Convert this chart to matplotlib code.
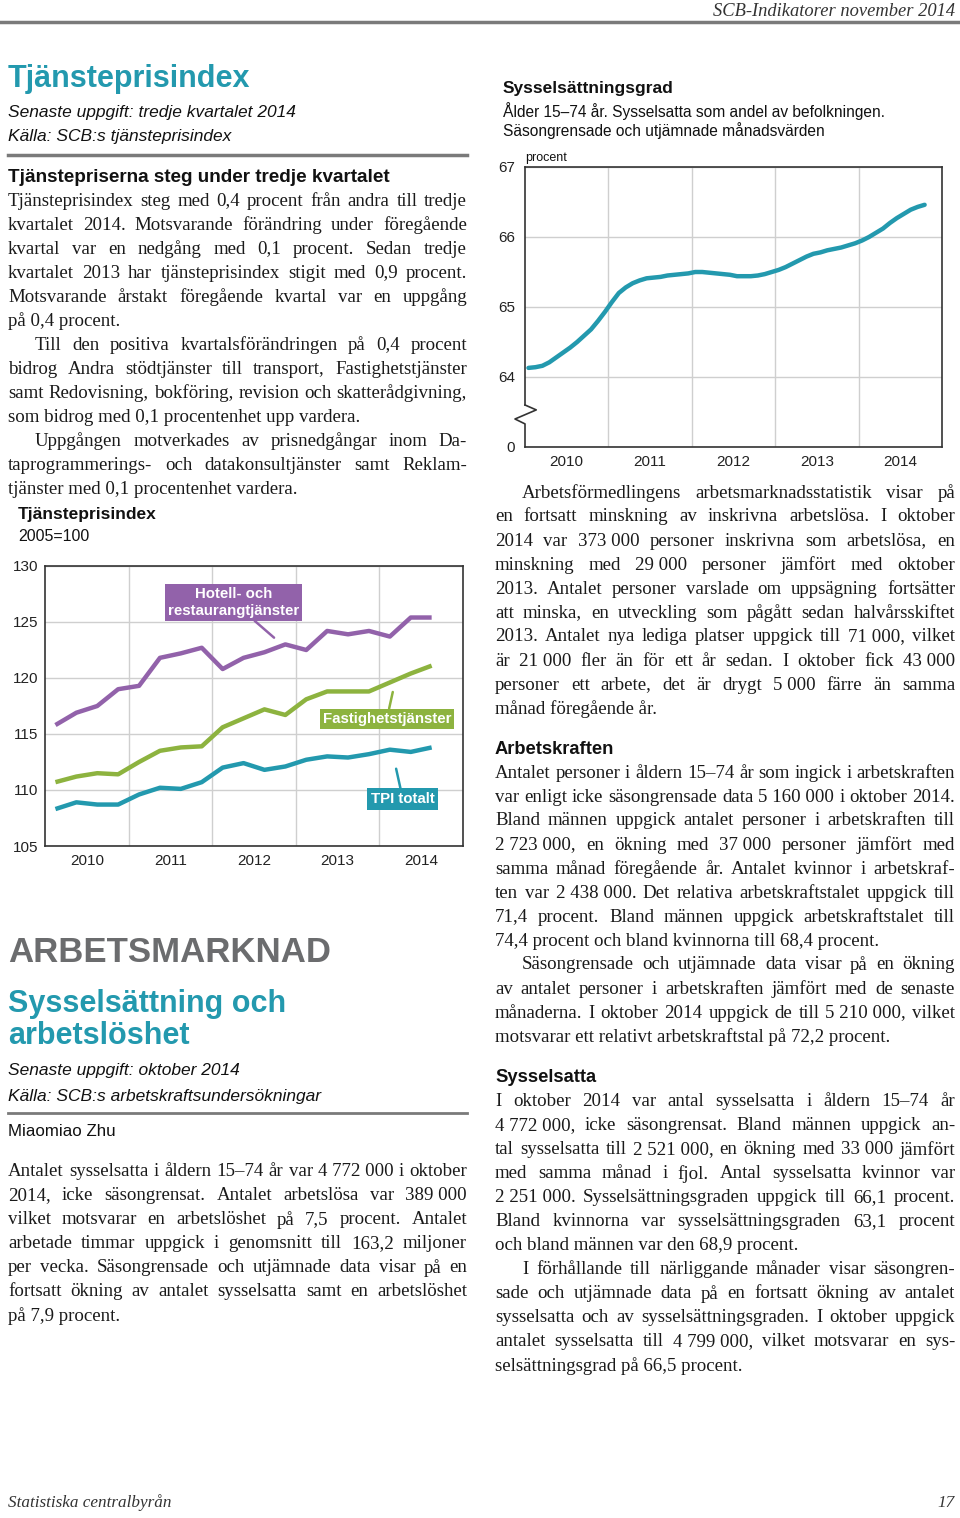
import re
import matplotlib
matplotlib.use("Agg")
import matplotlib.pyplot as plt
import matplotlib.transforms as mtransforms
from matplotlib.lines import Line2D

W, H = 960, 1518

# Tjänsteprisindex, kvartal 2010K1-2014K3, 2005=100
tpi_years = [2010] * 4 + [2011] * 4 + [2012] * 4 + [2013] * 4 + [2014] * 3
tpi_quarter = [1, 2, 3, 4] * 4 + [1, 2, 3]
hotell = [115.8, 116.9, 117.5, 119.0, 119.3, 121.8, 122.2, 122.7, 120.8, 121.8,
          122.3, 123.0, 122.5, 124.2, 123.9, 124.2, 123.7, 125.4, 125.4]
fastighet = [110.7, 111.2, 111.5, 111.4, 112.5, 113.5, 113.8, 113.9, 115.6, 116.4,
             117.2, 116.7, 118.1, 118.8, 118.8, 118.8, 119.6, 120.4, 121.1]
tpi_totalt = [108.3, 108.9, 108.7, 108.7, 109.6, 110.2, 110.1, 110.7, 112.0, 112.4,
              111.8, 112.1, 112.7, 113.0, 112.9, 113.2, 113.6, 113.4, 113.8]

# Sysselsättningsgrad, säsongrensade och utjämnade månadsvärden jan 2010 - okt 2014
syss_start_year = 2010
syss_grad = [64.13, 64.14, 64.16, 64.21, 64.28, 64.35, 64.42, 64.50, 64.59, 64.68,
             64.80, 64.93, 65.07, 65.20, 65.28, 65.34, 65.38, 65.41, 65.42, 65.43,
             65.45, 65.46, 65.47, 65.48, 65.50, 65.50, 65.49, 65.48, 65.47, 65.46,
             65.44, 65.44, 65.44, 65.45, 65.47, 65.50, 65.53, 65.57, 65.62, 65.67,
             65.72, 65.76, 65.78, 65.81, 65.83, 65.85, 65.88, 65.91, 65.95, 66.00,
             66.06, 66.12, 66.20, 66.27, 66.33, 66.39, 66.43, 66.46]

year_labels = ['2010', '2011', '2012', '2013', '2014']

TEAL = '#2399ae'
PURPLE = '#9262aa'
GREEN = '#8db33f'
GRAY = '#7a7a7a'
SERIF = 'Liberation Serif'
SANS = 'Liberation Sans'

fig = plt.figure(figsize=(W / 100, H / 100), dpi=100)
renderer = fig.canvas.get_renderer()


def fx(x):
    return x / W


def fy(y):
    return 1 - y / H


def put(x, y, s, **kw):
    kw.setdefault('va', 'center')
    kw.setdefault('family', SANS)
    kw.setdefault('color', '#111111')
    return fig.text(fx(x), fy(y), s, **kw)


def hline(x0, x1, y, lw, color=GRAY):
    fig.add_artist(Line2D([fx(x0), fx(x1)], [fy(y), fy(y)], lw=lw, color=color))


def paragraph(x0, x1, y0, lines, step=24, size=13.6, indent=27):
    # lines: (text, flag) where flag: 'i' indent first, 'l' last line (no justify)
    y = y0
    for text, flag in lines:
        text = re.sub(r'(\d) (\d{3})', '\\1\u00a0\\2', text)
        text = re.sub(r'(\d) (\d{3})', '\\1\u00a0\\2', text)
        start = x0 + (indent if 'i' in flag else 0)
        kw = dict(family=SERIF, size=size, color='#1a1a1a')
        if 'l' in flag:
            put(start, y, text, **kw)
        else:
            words = text.split(' ')
            objs = [put(start, y, w, **kw) for w in words]
            widths = [o.get_window_extent(renderer).width for o in objs]
            gap = (x1 - start - sum(widths)) / (len(words) - 1)
            s = size
            while gap < 2.5:
                s -= 0.1
                for o in objs:
                    o.set_fontsize(s)
                widths = [o.get_window_extent(renderer).width for o in objs]
                gap = (x1 - start - sum(widths)) / (len(words) - 1)
            xx = start
            for o, w in zip(objs, widths):
                o.set_x(fx(xx))
                xx += w + gap
        y += step


# ---- page header / footer
put(955, 12, 'SCB-Indikatorer november 2014', family=SERIF, style='italic',
    size=13.3, ha='right', color='#333333')
hline(0, 960, 22, 2.5)
put(8, 1503, 'Statistiska centralbyrån', family=SERIF, style='italic', size=12.3,
    color='#333333')
put(955, 1503, '17', family=SERIF, style='italic', size=12.3, ha='right',
    color='#333333')

# ---- left column, Tjänsteprisindex
put(8, 79, 'Tjänsteprisindex', weight='bold', size=22, color=TEAL)
put(8, 112, 'Senaste uppgift: tredje kvartalet 2014', style='italic', size=12.5)
put(8, 137, 'Källa: SCB:s tjänsteprisindex', style='italic', size=12.5)
hline(8, 467, 155, 2.5)
put(8, 177, 'Tjänstepriserna steg under tredje kvartalet', weight='bold', size=13.6)
paragraph(8, 467, 201, [
    ('Tjänsteprisindex steg med 0,4 procent från andra till tredje', ''),
    ('kvartalet 2014. Motsvarande förändring under föregående', ''),
    ('kvartal var en nedgång med 0,1 procent. Sedan tredje', ''),
    ('kvartalet 2013 har tjänsteprisindex stigit med 0,9 procent.', ''),
    ('Motsvarande årstakt föregående kvartal var en uppgång', ''),
    ('på 0,4 procent.', 'l'),
    ('Till den positiva kvartalsförändringen på 0,4 procent', 'i'),
    ('bidrog Andra stödtjänster till transport, Fastighetstjänster', ''),
    ('samt Redovisning, bokföring, revision och skatterådgivning,', ''),
    ('som bidrog med 0,1 procentenhet upp vardera.', 'l'),
    ('Uppgången motverkades av prisnedgångar inom Da-', 'i'),
    ('taprogrammerings- och datakonsultjänster samt Reklam-', ''),
    ('tjänster med 0,1 procentenhet vardera.', 'l'),
])

put(18, 515, 'Tjänsteprisindex', weight='bold', size=12.5)
put(18, 537, '2005=100', size=11.5)

ax1 = fig.add_axes([fx(45), fy(846), (463 - 45) / W, (846 - 566) / H])
tpi_x = [y + (q - 0.5) / 4 for y, q in zip(tpi_years, tpi_quarter)]
ax1.plot(tpi_x, hotell, color=PURPLE, lw=3.2, solid_capstyle='butt')
ax1.plot(tpi_x, fastighet, color=GREEN, lw=3.2, solid_capstyle='butt')
ax1.plot(tpi_x, tpi_totalt, color=TEAL, lw=3.2, solid_capstyle='butt')
ax1.set_xlim(2010, 2015)
ax1.set_ylim(105, 130)
ax1.set_yticks([105, 110, 115, 120, 125, 130])
ax1.set_xticks([2011, 2012, 2013, 2014])
ax1.set_xticklabels([])
ax1.set_xticks([2010.5 + i for i in range(5)], minor=True)
ax1.set_xticklabels(year_labels, minor=True)
ax1.tick_params(axis='both', which='both', length=0, labelsize=11, colors='#222222')
ax1.tick_params(axis='y', pad=5)
ax1.tick_params(axis='x', which='minor', pad=6)
ax1.grid(True, color='#cfcfcf', lw=1)
for sp in ax1.spines.values():
    sp.set_color('#333333')
    sp.set_linewidth(1.2)
for lab in ax1.get_xticklabels(minor=True) + ax1.get_yticklabels():
    lab.set_family(SANS)

box_kw = dict(ha='center', va='center', color='white', weight='bold', size=10.8,
              family=SANS, linespacing=1.25)
ax1.annotate('Hotell- och\nrestaurangtjänster', xy=(2012.74, 123.6),
             xytext=(2012.255, 126.74),
             bbox=dict(boxstyle='square,pad=0.2', fc=PURPLE, ec='none'),
             arrowprops=dict(arrowstyle='-', color=PURPLE, lw=1.8, shrinkA=0, shrinkB=0),
             **box_kw)
ax1.annotate('Fastighetstjänster', xy=(2014.16, 118.75), xytext=(2014.09, 116.38),
             bbox=dict(boxstyle='square,pad=0.2', fc=GREEN, ec='none'),
             arrowprops=dict(arrowstyle='-', color=GREEN, lw=1.8, shrinkA=0, shrinkB=0),
             **box_kw)
ax1.annotate('TPI totalt', xy=(2014.2, 111.9), xytext=(2014.28, 109.2),
             bbox=dict(boxstyle='square,pad=0.25', fc=TEAL, ec='none'),
             arrowprops=dict(arrowstyle='-', color=TEAL, lw=1.8, shrinkA=0, shrinkB=0),
             **box_kw)

# ---- left column, Arbetsmarknad
put(8, 953, 'ARBETSMARKNAD', weight='bold', size=25, color='#6b6c6e')
put(8, 1004, 'Sysselsättning och', weight='bold', size=22, color=TEAL)
put(8, 1036, 'arbetslöshet', weight='bold', size=22, color=TEAL)
put(8, 1070, 'Senaste uppgift: oktober 2014', style='italic', size=12.5)
put(8, 1096, 'Källa: SCB:s arbetskraftsundersökningar', style='italic', size=12.5)
hline(8, 467, 1113, 2)
put(8, 1132, 'Miaomiao Zhu', size=12.2)
paragraph(8, 467, 1172, [
    ('Antalet sysselsatta i åldern 15–74 år var 4 772 000 i oktober', ''),
    ('2014, icke säsongrensat. Antalet arbetslösa var 389 000', ''),
    ('vilket motsvarar en arbetslöshet på 7,5 procent. Antalet', ''),
    ('arbetade timmar uppgick i genomsnitt till 163,2 miljoner', ''),
    ('per vecka. Säsongrensade och utjämnade data visar på en', ''),
    ('fortsatt ökning av antalet sysselsatta samt en arbetslöshet', ''),
    ('på 7,9 procent.', 'l'),
])

# ---- right column, Sysselsättningsgrad chart
put(503, 89, 'Sysselsättningsgrad', weight='bold', size=12.5)
put(503, 111, 'Ålder 15–74 år. Sysselsatta som andel av befolkningen.', size=11.2)
put(503, 131, 'Säsongrensade och utjämnade månadsvärden', size=11.2)
put(525, 158, 'procent', size=9)

ax2 = fig.add_axes([fx(525), fy(447), (942 - 525) / W, (447 - 167) / H])
syss_x = [syss_start_year + (m + 0.5) / 12 for m in range(len(syss_grad))]
ax2.plot(syss_x, syss_grad, color=TEAL, lw=3.2, solid_capstyle='round')
ax2.set_xlim(2010, 2015)
ax2.set_ylim(63, 67)
ax2.set_yticks([63, 64, 65, 66, 67])
ax2.set_yticklabels(['0', '64', '65', '66', '67'])
ax2.set_xticks([2011, 2012, 2013, 2014])
ax2.set_xticklabels([])
ax2.set_xticks([2010.5 + i for i in range(5)], minor=True)
ax2.set_xticklabels(year_labels, minor=True)
ax2.tick_params(axis='both', which='both', length=0, labelsize=11, colors='#222222')
ax2.tick_params(axis='y', pad=7)
ax2.tick_params(axis='x', which='minor', pad=6)
ax2.grid(True, color='#cfcfcf', lw=1)
for sp in ax2.spines.values():
    sp.set_color('#333333')
    sp.set_linewidth(1.2)
ax2.spines['left'].set_visible(False)
for lab in ax2.get_xticklabels(minor=True) + ax2.get_yticklabels():
    lab.set_family(SANS)
# axis break on the left spine
tr = mtransforms.blended_transform_factory(ax2.transAxes, ax2.transData)
ax2.plot([0, 0], [67, 63.6], color='#333333', lw=1.2, transform=tr, clip_on=False)
ax2.plot([0, 0.027, -0.024, 0, 0], [63.6, 63.53, 63.40, 63.33, 63.0],
         color='#333333', lw=1.2, transform=tr, clip_on=False)

# ---- right column text
paragraph(495, 955, 493, [
    ('Arbetsförmedlingens arbetsmarknadsstatistik visar på', 'i'),
    ('en fortsatt minskning av inskrivna arbetslösa. I oktober', ''),
    ('2014 var 373 000 personer inskrivna som arbetslösa, en', ''),
    ('minskning med 29 000 personer jämfört med oktober', ''),
    ('2013. Antalet personer varslade om uppsägning fortsätter', ''),
    ('att minska, en utveckling som pågått sedan halvårsskiftet', ''),
    ('2013. Antalet nya lediga platser uppgick till 71 000, vilket', ''),
    ('är 21 000 fler än för ett år sedan. I oktober fick 43 000', ''),
    ('personer ett arbete, det är drygt 5 000 färre än samma', ''),
    ('månad föregående år.', 'l'),
])

put(495, 749, 'Arbetskraften', weight='bold', size=13.2)
paragraph(495, 955, 773, [
    ('Antalet personer i åldern 15–74 år som ingick i arbetskraften', ''),
    ('var enligt icke säsongrensade data 5 160 000 i oktober 2014.', ''),
    ('Bland männen uppgick antalet personer i arbetskraften till', ''),
    ('2 723 000, en ökning med 37 000 personer jämfört med', ''),
    ('samma månad föregående år. Antalet kvinnor i arbetskraf-', ''),
    ('ten var 2 438 000. Det relativa arbetskraftstalet uppgick till', ''),
    ('71,4 procent. Bland männen uppgick arbetskraftstalet till', ''),
    ('74,4 procent och bland kvinnorna till 68,4 procent.', 'l'),
    ('Säsongrensade och utjämnade data visar på en ökning', 'i'),
    ('av antalet personer i arbetskraften jämfört med de senaste', ''),
    ('månaderna. I oktober 2014 uppgick de till 5 210 000, vilket', ''),
    ('motsvarar ett relativt arbetskraftstal på 72,2 procent.', 'l'),
])

put(495, 1078, 'Sysselsatta', weight='bold', size=13.2)
paragraph(495, 955, 1102, [
    ('I oktober 2014 var antal sysselsatta i åldern 15–74 år', ''),
    ('4 772 000, icke säsongrensat. Bland männen uppgick an-', ''),
    ('tal sysselsatta till 2 521 000, en ökning med 33 000 jämfört', ''),
    ('med samma månad i fjol. Antal sysselsatta kvinnor var', ''),
    ('2 251 000. Sysselsättningsgraden uppgick till 66,1 procent.', ''),
    ('Bland kvinnorna var sysselsättningsgraden 63,1 procent', ''),
    ('och bland männen var den 68,9 procent.', 'l'),
    ('I förhållande till närliggande månader visar säsongren-', 'i'),
    ('sade och utjämnade data på en fortsatt ökning av antalet', ''),
    ('sysselsatta och av sysselsättningsgraden. I oktober uppgick', ''),
    ('antalet sysselsatta till 4 799 000, vilket motsvarar en sys-', ''),
    ('selsättningsgrad på 66,5 procent.', 'l'),
])

fig.savefig('out.png', dpi=100, facecolor='white')
